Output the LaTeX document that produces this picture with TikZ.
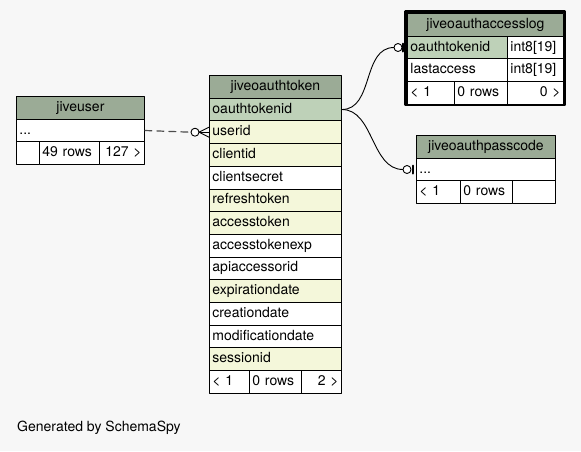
\documentclass[tikz,border=0pt]{standalone}
\usepackage{fontspec}
\setmainfont{TeX Gyre Heros}
\definecolor{hdr}{HTML}{9BAB96}
\definecolor{pkey}{HTML}{BED1B8}
\definecolor{idx}{HTML}{F4F7DA}
\definecolor{bg}{HTML}{F7F7F7}
\begin{document}
\begin{tikzpicture}[x=1pt,y=-1pt,line cap=round,line join=round,font=\fontsize{14}{16}\selectfont]
	\def\h{22.7}
	\tikzset{cell/.style={draw,line width=0.9pt,anchor=north west,minimum height=\h pt,inner xsep=3pt,inner ysep=0pt,text height=10pt,text depth=3pt,align=left,fill=white},
		head/.style={cell,fill=hdr,align=center},
		rcell/.style={cell,align=right},
		link/.style={line width=0.9pt},
		fklink/.style={line width=1.2pt,dash pattern=on 7pt off 5pt,color=black!70}}
	\useasboundingbox (0,0) rectangle (581,451);
	\fill[bg] (0,0) rectangle (581,451);
	% jiveoauthtoken
	\node[head,text width=126pt] (tok) at (209,75) {jiveoauthtoken};
	\foreach \n/\c [count=\i] in {oauthtokenid/pkey,userid/idx,clientid/idx,clientsecret/white,refreshtoken/idx,accesstoken/idx,accesstokenexp/white,apiaccessorid/white,expirationdate/idx,creationdate/white,modificationdate/white,sessionid/idx}{\node[cell,text width=126pt,fill=\c] (tok\i) at (209,{75+\h*\i}) {\n};}
	\node[cell,text width=34pt] (tokf1) at (209,{75+13*\h}) {< 1};
	\node[cell,text width=46pt] (tokf2) at (249,{75+13*\h}) {0 rows};
	\node[rcell,text width=34pt] (tokf3) at (301,{75+13*\h}) {2 >};
	% jiveuser
	\node[head,text width=122pt] (usr) at (16,96) {jiveuser};
	\node[cell,text width=122pt] (usr1) at (16,{96+\h}) {...};
	\node[cell,text width=17pt] (usrf1) at (16,{96+2*\h}) {};
	\node[cell,text width=54pt] (usrf2) at (39,{96+2*\h}) {49 rows};
	\node[rcell,text width=39pt] (usrf3) at (99,{96+2*\h}) {127 >};
	% jiveoauthaccesslog
	\draw[line width=2.6pt] (405.5,11.5) rectangle (565,105);
	\node[head,text width=150pt] (acc) at (407,13) {jiveoauthaccesslog};
	\node[cell,text width=94pt,fill=pkey] (acc1) at (407,{13+\h}) {oauthtokenid};
	\node[cell,text width=50pt] (acc1t) at (507,{13+\h}) {int8[19]};
	\node[cell,text width=94pt] (acc2) at (407,{13+2*\h}) {lastaccess};
	\node[cell,text width=50pt] (acc2t) at (507,{13+2*\h}) {int8[19]};
	\node[cell,text width=41pt] (accf1) at (407,{13+3*\h}) {< 1};
	\node[cell,text width=47pt] (accf2) at (454,{13+3*\h}) {0 rows};
	\node[rcell,text width=50pt] (accf3) at (507,{13+3*\h}) {0 >};
	% jiveoauthpasscode
	\node[head,text width=133pt] (pas) at (416,135) {jiveoauthpasscode};
	\node[cell,text width=133pt] (pas1) at (416,{135+\h}) {...};
	\node[cell,text width=38pt] (pasf1) at (416,{135+2*\h}) {< 1};
	\node[cell,text width=46pt] (pasf2) at (460,{135+2*\h}) {0 rows};
	\node[cell,text width=37pt] (pasf3) at (512,{135+2*\h}) {};
	% links
	\draw[fklink] (usr1.east) -- ([xshift=-18pt]tok2.west);
	\coordinate (crow) at ([xshift=-10pt]tok2.west);
	\foreach \s in {-5,0,5}{\draw[link] (crow) -- ([yshift=\s pt]tok2.west);}
	\draw[link,fill=white] ([xshift=-14pt]tok2.west) circle[radius=4pt];
	\draw[link] (tok1.east) .. controls +(32,0) and +(-32,0) .. ([xshift=-13pt]acc1.west);
	\draw[link,fill=white] ([xshift=-9pt]acc1.west) circle[radius=4pt];
	\draw[line width=2pt] ([shift={(-4pt,-4pt)}]acc1.west) -- ([shift={(-4pt,4pt)}]acc1.west);
	\draw[link] (tok1.east) .. controls +(32,0) and +(-32,0) .. ([xshift=-13pt]pas1.west);
	\draw[link,fill=white] ([xshift=-9pt]pas1.west) circle[radius=4pt];
	\draw[line width=2pt] ([shift={(-3pt,-4pt)}]pas1.west) -- ([shift={(-3pt,4pt)}]pas1.west);
	\node[anchor=west,inner sep=3pt] (gen) at (14,428) {Generated by SchemaSpy};
\end{tikzpicture}
\end{document}
